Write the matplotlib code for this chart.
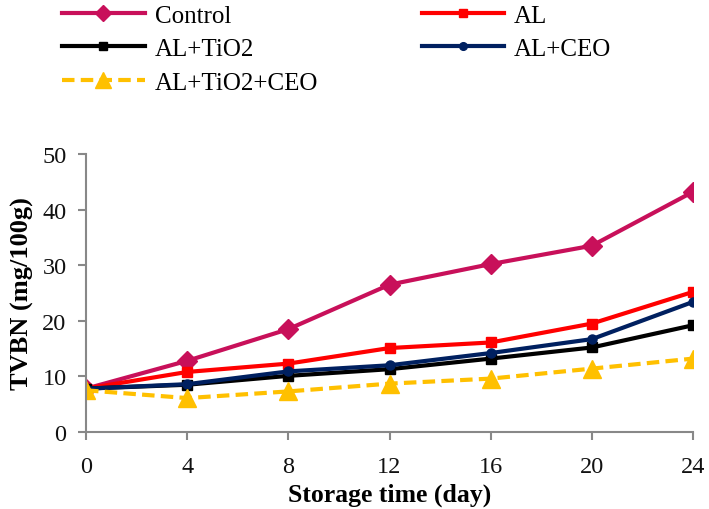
import matplotlib.pyplot as plt

plt.rcParams['font.family'] = ['Liberation Serif', 'DejaVu Serif']

# storage time (day)
days = [0, 4, 8, 12, 16, 20, 24]

# TVBN (mg/100g) per treatment
control = [7.8, 12.8, 18.5, 26.5, 30.2, 33.5, 43.2]
al = [7.8, 10.8, 12.3, 15.1, 16.1, 19.5, 25.2]
al_tio2 = [7.8, 8.5, 10.1, 11.3, 13.2, 15.2, 19.2]
al_ceo = [7.8, 8.6, 10.9, 12.0, 14.2, 16.7, 23.4]
al_tio2_ceo = [7.5, 6.1, 7.3, 8.7, 9.6, 11.4, 13.2]

fig = plt.figure(figsize=(7.09, 5.10), dpi=100)
ax = fig.add_axes([86 / 709, 77 / 510, 607 / 709, 278 / 510])

h1, = ax.plot(days, control, color='#C8105A', lw=3, marker='D', ms=10, label='Control')
h2, = ax.plot(days, al, color='#FF0000', lw=3, marker='s', ms=7.5, label='AL')
h3, = ax.plot(days, al_tio2, color='black', lw=3, marker='s', ms=7.5, label='AL+TiO2')
h4, = ax.plot(days, al_ceo, color='#002060', lw=3, marker='o', ms=6.5, label='AL+CEO')
h5, = ax.plot(days, al_tio2_ceo, color='#FFC000', lw=3, ls=(0, (3, 1.5)), marker='^', ms=13,
              label='AL+TiO2+CEO')

ax.set_xlim(0, 24)
ax.set_ylim(0, 50)
ax.set_xticks(days)
ax.set_yticks(range(0, 51, 10))
ax.tick_params(labelsize=17.5, colors='#888888', labelcolor='#111111', length=6, width=1.5)
ax.tick_params(axis='y', pad=8)
ax.tick_params(axis='x', pad=11.5)
for s in ['top', 'right']:
    ax.spines[s].set_visible(False)
for s in ['left', 'bottom']:
    ax.spines[s].set_color('#888888')
    ax.spines[s].set_linewidth(1.5)
for lbl in ax.get_xticklabels() + ax.get_yticklabels():
    lbl.set_clip_on(False)

ax.set_xlabel('Storage time (day)', fontsize=18.5, fontweight='bold', labelpad=4)
ax.set_ylabel('TVBN (mg/100g)', fontsize=19, fontweight='bold', labelpad=6)

fig.legend([h1, h3, h5, h2, h4], ['Control', 'AL+TiO2', 'AL+TiO2+CEO', 'AL', 'AL+CEO'],
           ncol=2, loc='upper left', bbox_to_anchor=(62 / 709, 0.99), frameon=False,
           fontsize=18, handlelength=3.3, handletextpad=0.4, columnspacing=4.15,
           labelspacing=0.44, borderpad=0, borderaxespad=0, markerscale=0.85)

fig.savefig('out.png', dpi=100, facecolor='white')
